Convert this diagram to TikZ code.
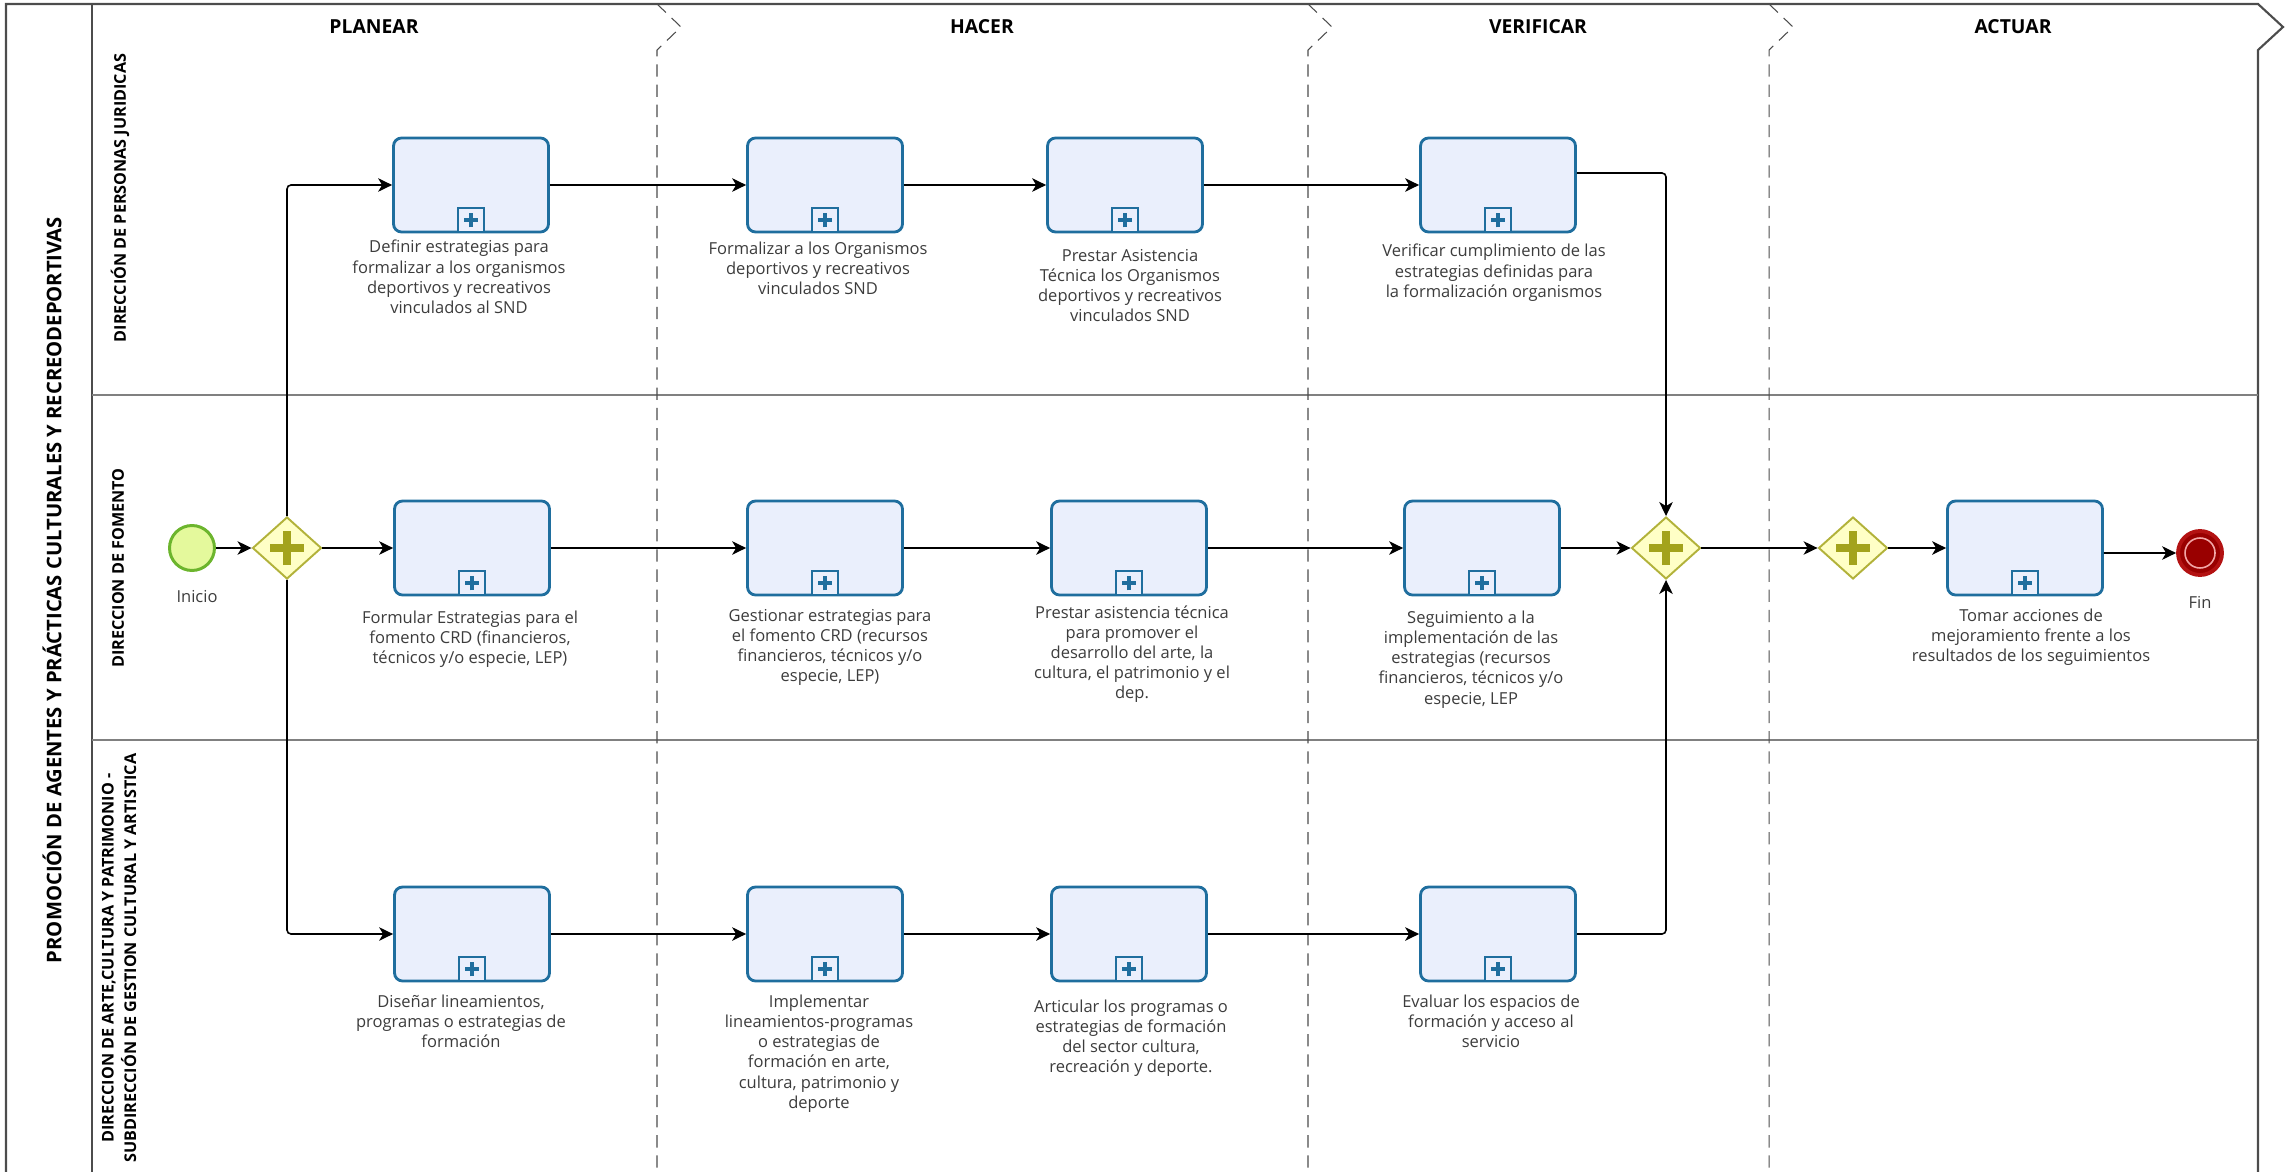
\documentclass[tikz,border=0pt]{standalone}
\usepackage{fontspec}
\setmainfont{Open Sans}
\usetikzlibrary{positioning,shapes.geometric,arrows.meta}

\definecolor{taskline}{HTML}{1F6E9E}
\definecolor{taskfill}{HTML}{EAEFFC}
\definecolor{gateline}{HTML}{B2B23A}
\definecolor{gatefill}{HTML}{FFFFC6}
\definecolor{gateplus}{HTML}{A3A31C}
\definecolor{startline}{HTML}{6CB52D}
\definecolor{startfill}{HTML}{E4F99C}
\definecolor{endline}{HTML}{B31212}
\definecolor{endfill}{HTML}{990000}
\definecolor{endring}{HTML}{F2A6A6}
\definecolor{lbltext}{HTML}{3C3C3C}

\tikzset{
  frame/.style={draw=black!70, line width=1.2pt}, % pool border
  laneline/.style={draw=black!50, line width=1.1pt}, % lane separators
  phase/.style={draw=black!70, line width=0.6pt, dash pattern=on 7pt off 4.5pt}, % milestones
  phasehd/.style={font=\fontsize{11}{13}\selectfont\bfseries, inner sep=0pt},
  lanelbl/.style={font=\fontsize{9.2}{12.8}\selectfont\bfseries, rotate=90, align=center, inner sep=0pt},
  pooltitle/.style={font=\fontsize{11.5}{13}\selectfont\bfseries, rotate=90, inner sep=0pt},
  % collapsed sub-process
  task/.style={rectangle, rounded corners=0.16cm, draw=taskline, fill=taskfill, line width=1.6pt,
    minimum width=3.1cm, minimum height=1.88cm, inner sep=0pt},
  submark/.style={rectangle, draw=taskline, fill=taskfill, line width=1.2pt, anchor=south,
    minimum width=0.52cm, minimum height=0.48cm, inner sep=0pt,
    path picture={\draw[taskline, line width=2.3pt]
      ([xshift=-0.14cm]path picture bounding box.center) -- ([xshift=0.14cm]path picture bounding box.center)
      ([yshift=-0.14cm]path picture bounding box.center) -- ([yshift=0.14cm]path picture bounding box.center);}},
  % parallel gateway
  gate/.style={diamond, draw=gateline, fill=gatefill, line width=1.1pt,
    minimum width=1.38cm, minimum height=1.24cm, inner sep=0pt,
    path picture={\draw[gateplus, line width=4.2pt]
      ([xshift=-0.34cm]path picture bounding box.center) -- ([xshift=0.34cm]path picture bounding box.center)
      ([yshift=-0.34cm]path picture bounding box.center) -- ([yshift=0.34cm]path picture bounding box.center);}},
  startev/.style={circle, draw=startline, fill=startfill, line width=1.7pt, minimum size=0.9cm, inner sep=0pt},
  endev/.style={circle, draw=endline, fill=endfill, line width=2.2pt, minimum size=0.88cm, inner sep=0pt,
    path picture={\draw[endring, line width=0.9pt] (path picture bounding box.center) circle (0.3cm);}},
  lbl/.style={font=\fontsize{9.4}{11.4}\selectfont, text=lbltext, align=center, inner sep=0pt, anchor=north},
  evlbl/.style={font=\fontsize{9.4}{11.4}\selectfont, text=lbltext, inner sep=0pt},
  flow/.style={draw, line width=0.9pt, rounded corners=0.08cm,
    -{Stealth[length=0.28cm, width=0.27cm, inset=0.08cm]}},
}

\begin{document}
\begin{tikzpicture}[x=0.02cm, y=-0.02cm]
\useasboundingbox (0,0) rectangle (2287,1172);

% pool and lanes
\draw[frame] (2258,1172) -- (2258,50) -- (2283,27) -- (2258,4) -- (6,4) -- (6,1172);
\draw[frame] (92,4) -- (92,1172);
\draw[laneline] (92,395) -- (2258,395);
\draw[laneline] (92,740) -- (2258,740);
\foreach \px in {657,1308,1769}
  \draw[phase] (\px,4) -- (\px+24,27) -- (\px,50) -- (\px,1172);

\node[phasehd] (hPlan) at (374,27) {PLANEAR};
\node[phasehd] (hHacer) at (982,27) {HACER};
\node[phasehd] (hVer) at (1538,27) {VERIFICAR};
\node[phasehd] (hAct) at (2013,27) {ACTUAR};

\node[pooltitle] (poolT) at (52,590) {PROMOCIÓN DE AGENTES Y PRÁCTICAS CULTURALES Y RECREODEPORTIVAS};
\node[lanelbl] (laneJur) at (120,198) {DIRECCIÓN DE PERSONAS JURIDICAS};
\node[lanelbl] (laneFom) at (118,568) {DIRECCION DE FOMENTO};
\node[lanelbl] (laneArt) at (119,958) {DIRECCION DE ARTE,CULTURA Y PATRIMONIO -\\SUBDIRECCIÓN DE GESTION CULTURAL Y ARTISTICA};

% activities
\node[task] (tDef) at (471,185) {};
\node[task] (tFor) at (825,185) {};
\node[task] (tPre) at (1125,185) {};
\node[task] (tVer) at (1498,185) {};
\node[task] (tFom) at (472,548) {};
\node[task] (tGes) at (825,548) {};
\node[task] (tAsi) at (1129,548) {};
\node[task] (tSeg) at (1482,548) {};
\node[task] (tTom) at (2025,548) {};
\node[task] (tDis) at (472,934) {};
\node[task] (tImp) at (825,934) {};
\node[task] (tArt) at (1129,934) {};
\node[task] (tEva) at (1498,934) {};
\foreach \t in {tDef,tFor,tPre,tVer,tFom,tGes,tAsi,tSeg,tTom,tDis,tImp,tArt,tEva}
  \node[submark] (m\t) at (\t.south) {};

% events and gateways
\node[startev] (ini) at (192,548) {};
\node[gate] (gSplit) at (287,548) {};
\node[gate] (gJoin) at (1666,548) {};
\node[gate] (gAct) at (1853,548) {};
\node[endev] (fin) at (2200,553) {};

% labels
\node[evlbl] (lIni) at (197,597) {Inicio};
\node[evlbl] (lFin) at (2200,602) {Fin};
\node[lbl] (lDef) at (459,240) {Definir estrategias para\\formalizar a los organismos\\deportivos y recreativos\\vinculados al SND};
\node[lbl] (lFor) at (818,242) {Formalizar a los Organismos\\deportivos y recreativos\\vinculados SND};
\node[lbl] (lPre) at (1130,249) {Prestar Asistencia\\Técnica los Organismos\\deportivos y recreativos\\vinculados SND};
\node[lbl] (lVer) at (1494,244) {Verificar cumplimiento de las\\estrategias definidas para\\la formalización organismos};
\node[lbl] (lFom) at (470,611) {Formular Estrategias para el\\fomento CRD (financieros,\\técnicos y/o especie, LEP)};
\node[lbl] (lGes) at (830,609) {Gestionar estrategias para\\el fomento CRD (recursos\\financieros, técnicos y/o\\especie, LEP)};
\node[lbl] (lAsi) at (1132,605) {Prestar asistencia técnica\\para promover el\\desarrollo del arte, la\\cultura, el patrimonio y el\\dep.};
\node[lbl] (lSeg) at (1471,611) {Seguimiento a la\\implementación de las\\estrategias (recursos\\financieros, técnicos y/o\\especie, LEP};
\node[lbl] (lTom) at (2031,609) {Tomar acciones de\\mejoramiento frente a los\\resultados de los seguimientos};
\node[lbl] (lDis) at (461,995) {Diseñar lineamientos,\\programas o estrategias de\\formación};
\node[lbl] (lImp) at (819,995) {Implementar\\lineamientos-programas\\o estrategias de\\formación en arte,\\cultura, patrimonio y\\deporte};
\node[lbl] (lArt) at (1131,1000) {Articular los programas o\\estrategias de formación\\del sector cultura,\\recreación y deporte.};
\node[lbl] (lEva) at (1491,995) {Evaluar los espacios de\\formación y acceso al\\servicio};

% sequence flows
\path[flow]
  (ini) edge (gSplit)
  (gSplit) edge (tFom)
  (tDef) edge (tFor)
  (tFor) edge (tPre)
  (tPre) edge (tVer)
  (tFom) edge (tGes)
  (tGes) edge (tAsi)
  (tAsi) edge (tSeg)
  (tSeg) edge (gJoin)
  (gJoin) edge (gAct)
  (gAct) edge (tTom)
  (tDis) edge (tImp)
  (tImp) edge (tArt)
  (tArt) edge (tEva);
\draw[flow] (gSplit.north) |- (tDef.west);
\draw[flow] (gSplit.south) |- (tDis.west);
\draw[flow] ([yshift=0.24cm]tVer.east) -| (gJoin.north);
\draw[flow] (tEva.east) -| (gJoin.south);
\draw[flow] ([yshift=-0.1cm]tTom.east) -- (fin.west);
\end{tikzpicture}
\end{document}
